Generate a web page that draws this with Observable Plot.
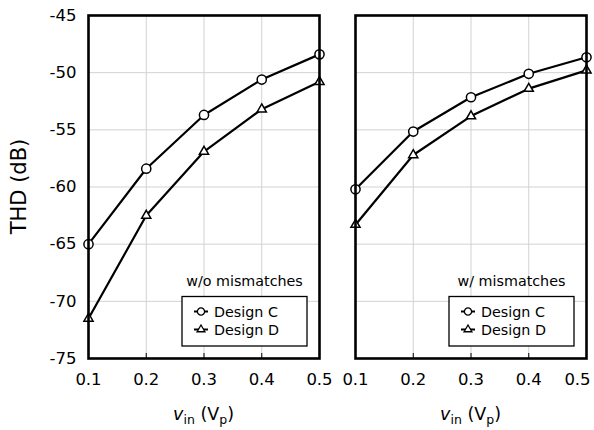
<!DOCTYPE html>
<html><head><meta charset="utf-8">
<script src="https://cdn.jsdelivr.net/npm/d3@7"></script>
<script src="https://cdn.jsdelivr.net/npm/@observablehq/plot@0.6"></script>
<style>
html,body{margin:0;padding:0;background:#fff;}
#chart{position:relative;width:594px;height:430px;}
</style></head><body><div id="chart"></div>
<script>
const panels = ["w/o mismatches", "w/ mismatches"];
const vin = [0.1, 0.2, 0.3, 0.4, 0.5];
const designs = ["Design C", "Design D"];
const woC = [-65.0, -58.4, -53.7, -50.6, -48.4];
const woD = [-71.5, -62.5, -56.9, -53.2, -50.8];
const wC = [-60.2, -55.15, -52.15, -50.1, -48.65];
const wD = [-63.3, -57.2, -53.8, -51.4, -49.8];
const xTicks = [0.1, 0.2, 0.3, 0.4, 0.5];
const yTicks = [-75, -70, -65, -60, -55, -50, -45];
const yLabel = "THD (dB)";

const rows = [];
[[woC, woD], [wC, wD]].forEach((pair, pi) =>
  pair.forEach((vals, di) =>
    vals.forEach((v, i) => rows.push({panel: panels[pi], design: designs[di], vin: vin[i], thd: v}))));

const tickRows = [];
panels.forEach((p, pi) => xTicks.forEach((t, ti) =>
  tickRows.push({panel: p, tick: t, edge: pi === panels.length - 1 && ti === xTicks.length - 1})));

const font = "'DejaVu Sans', Verdana, sans-serif";
const plot = Plot.plot({
  width: 594, height: 430,
  marginLeft: 88, marginRight: 8, marginTop: 15, marginBottom: 72,
  style: {fontFamily: font, background: "white", color: "black"},
  fx: {domain: panels, axis: null, paddingInner: 0.135, paddingOuter: 0, label: null},
  x: {domain: [0.1, 0.5]},
  y: {domain: [-75, -45]},
  marks: [
    Plot.gridX(xTicks, {stroke: "#d2d2d2", strokeOpacity: 1, strokeWidth: 1}),
    Plot.gridY(yTicks, {stroke: "#d2d2d2", strokeOpacity: 1, strokeWidth: 1}),
    Plot.text(tickRows.filter(d => !d.edge), {x: "tick", fx: "panel", text: d => d.tick.toFixed(1), frameAnchor: "bottom", dy: 26, fontSize: 16.5, fill: "black"}),
    Plot.text(tickRows.filter(d => d.edge), {x: "tick", fx: "panel", text: d => d.tick.toFixed(1), frameAnchor: "bottom", dy: 26, dx: -9, fontSize: 16.5, fill: "black"}),
    Plot.axisX(xTicks, {tickSize: 5, dy: -5, tickFormat: () => "", label: null, stroke: "black", strokeWidth: 1}),
    Plot.axisY(yTicks, {tickSize: 0, tickPadding: 12, fontSize: 16.5, tickFormat: d => String(d), label: null}),
    Plot.lineY(rows, {x: "vin", y: "thd", z: "design", fx: "panel", stroke: "black", strokeWidth: 2.2}),
    Plot.dot(rows.filter(d => d.design === designs[0]), {x: "vin", y: "thd", fx: "panel", symbol: "circle", r: 4.6, fill: "white", stroke: "black", strokeWidth: 1.5}),
    Plot.dot(rows.filter(d => d.design === designs[1]), {x: "vin", y: "thd", fx: "panel", symbol: "triangle", r: 3.4, fill: "white", stroke: "black", strokeWidth: 1.5}),
    Plot.frame({stroke: "black", strokeWidth: 2.6})
  ]
});
document.getElementById("chart").appendChild(plot);

const svg = d3.select(plot);
const fx = plot.scale("fx");
const y = plot.scale("y");
const yTop = y.apply(-45), yBot = y.apply(-75);

svg.append("text")
  .attr("transform", `translate(19,${(yTop + yBot) / 2}) rotate(-90)`)
  .attr("text-anchor", "middle").attr("dominant-baseline", "central")
  .style("font-family", font).style("font-size", "21px").attr("fill", "black")
  .text(yLabel);

panels.forEach(p => {
  const left = fx.apply(p), w = fx.bandwidth, right = left + w;
  const t = svg.append("text")
    .attr("x", left + w / 2).attr("y", yBot + 62)
    .attr("text-anchor", "middle")
    .style("font-family", font).style("font-size", "17.5px").attr("fill", "black");
  t.append("tspan").style("font-style", "italic").text("v");
  t.append("tspan").attr("dy", 4).style("font-size", "12.5px").text("in");
  t.append("tspan").attr("dy", -4).text(" (V");
  t.append("tspan").attr("dy", 4).style("font-size", "12.5px").text("p");
  t.append("tspan").attr("dy", -4).text(")");

  const bw = 125, bh = 49.5;
  const bx = right - 12 - bw, by = yBot - 12 - bh;
  const g = svg.append("g").style("font-family", font).style("font-size", "14.3px");
  g.append("text").attr("x", bx + bw / 2).attr("y", by - 10.5).attr("text-anchor", "middle").attr("fill", "black").text(p);
  g.append("rect").attr("x", bx).attr("y", by).attr("width", bw).attr("height", bh)
    .attr("fill", "white").attr("stroke", "black").attr("stroke-width", 1.3);
  designs.forEach((d, i) => {
    const cy = by + 15 + i * 18;
    g.append("line").attr("x1", bx + 12).attr("x2", bx + 26).attr("y1", cy).attr("y2", cy)
      .attr("stroke", "black").attr("stroke-width", 2);
    g.append("path").attr("transform", `translate(${bx + 19},${cy})`)
      .attr("d", d3.symbol(i === 0 ? d3.symbolCircle : d3.symbolTriangle, i === 0 ? Math.PI * 3.6 * 3.6 : Math.PI * 2.9 * 2.9)())
      .attr("fill", "white").attr("stroke", "black").attr("stroke-width", 1.3);
    g.append("text").attr("x", bx + 32).attr("y", cy).attr("text-anchor", "start")
      .attr("dominant-baseline", "central").attr("fill", "black").text(d);
  });
});
</script>
</body></html>
